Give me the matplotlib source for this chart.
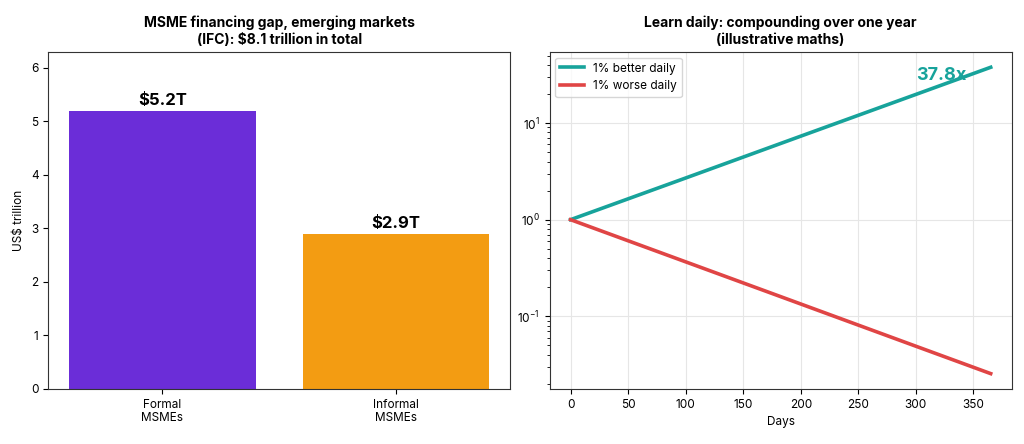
import matplotlib.pyplot as plt
import numpy as np

plt.rcParams['font.family'] = ['Inter', 'DejaVu Sans']

# Données du financement MSME (IFC)
categories = ['Formal\nMSMEs', 'Informal\nMSMEs']
gap_values = [5.2, 2.9]
bar_labels = ['$5.2T', '$2.9T']
bar_colors = ['#6B2DD8', '#F39C12']

# Données de la courbe
days = [0, 100, 200, 300, 365]
better = [1.0, 2.70, 7.32, 19.79, 37.8]
worse = [1.0, 0.366, 0.134, 0.049, 0.0255]

fig, (ax1, ax2) = plt.subplots(1, 2, figsize=(10.24, 4.44), dpi=100)

# Graphique à barres
x = np.arange(len(categories))
ax1.bar(x, gap_values, color=bar_colors, width=0.8)
for xi, v, lab in zip(x, gap_values, bar_labels):
    ax1.text(xi, v + 0.05, lab, ha='center', va='bottom', fontsize=12, fontweight='bold')
ax1.set_xticks(x)
ax1.set_xticklabels(categories, fontsize=8.5)
ax1.set_ylim(0, 6.3)
ax1.tick_params(axis='y', labelsize=8.5)
ax1.set_ylabel('US$ trillion', fontsize=8.5)
ax1.set_title('MSME financing gap, emerging markets\n(IFC): $8.1 trillion in total',
              fontsize=10, fontweight='bold')

# Courbes en échelle log
ax2.plot(days, better, color='#17A39B', lw=2.6, label='1% better daily')
ax2.plot(days, worse, color='#E04545', lw=2.6, label='1% worse daily')
ax2.set_yscale('log')
ax2.grid(True, color='#e6e6e6', lw=0.8)
ax2.set_axisbelow(True)
ax2.text(300, better[-1], '37.8x', color='#17A39B', fontsize=13, fontweight='bold',
         ha='left', va='top')
ax2.set_xlabel('Days', fontsize=8.5)
ax2.tick_params(labelsize=8.5)
ax2.legend(loc='upper left', fontsize=8.5)
ax2.set_title('Learn daily: compounding over one year\n(illustrative maths)',
              fontsize=10, fontweight='bold')

for ax in (ax1, ax2):
    for s in ax.spines.values():
        s.set_color('#333333')

plt.subplots_adjust(left=0.047, right=0.988, top=0.883, bottom=0.124, wspace=0.085)
plt.savefig('out.png', dpi=100)
